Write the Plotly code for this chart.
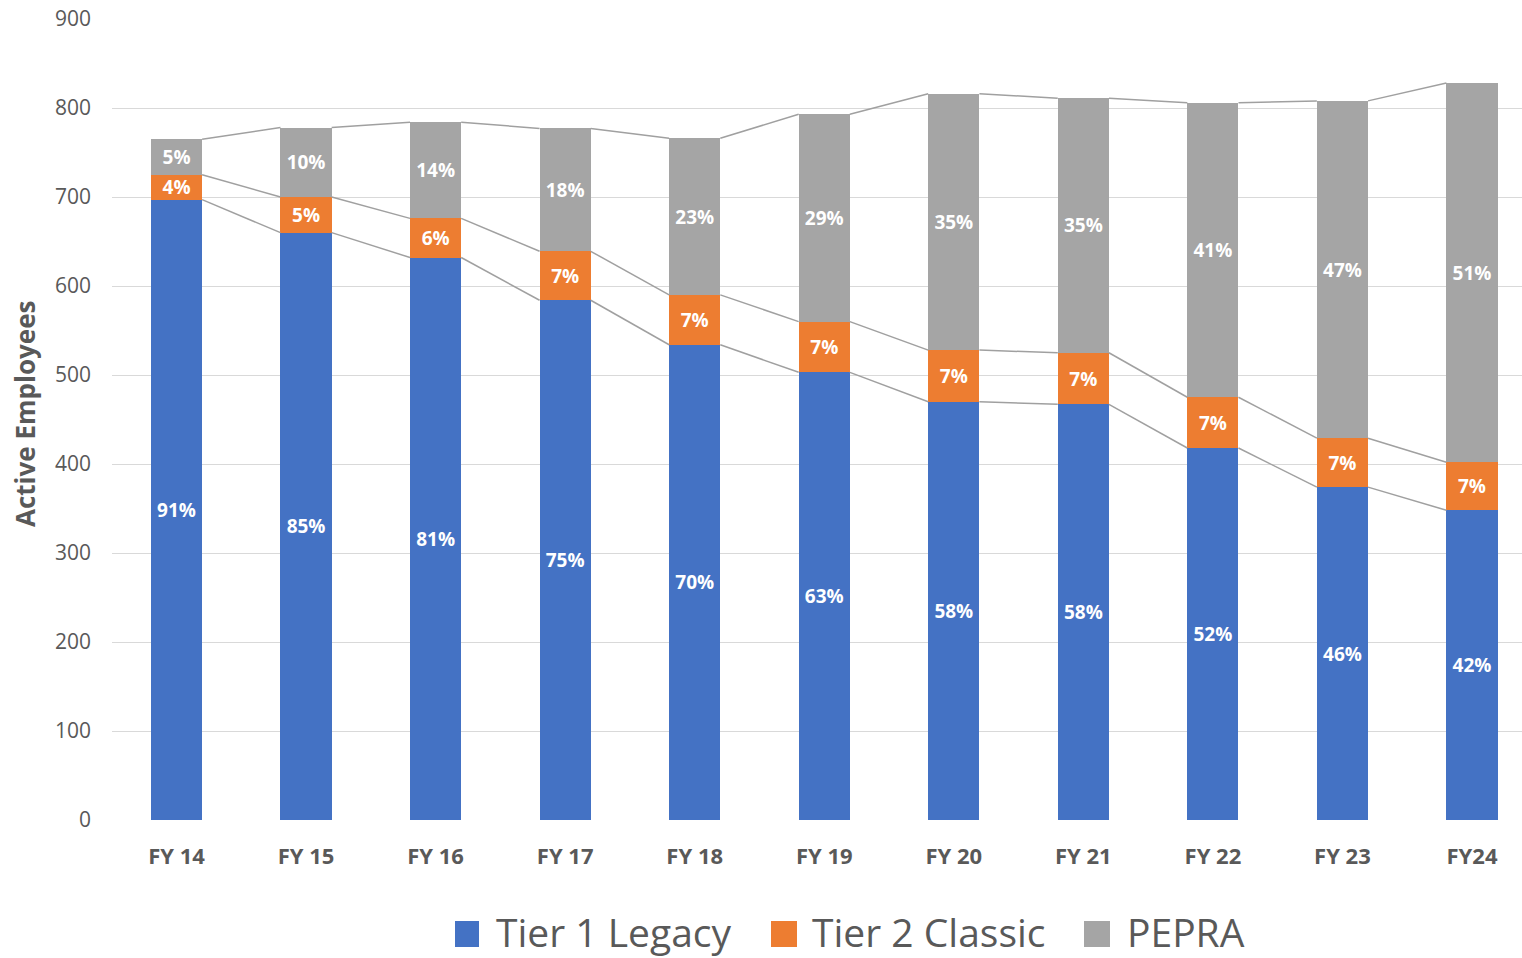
import plotly.graph_objects as go

# Active employees by pension tier, fiscal years 14-24
years = ["FY 14", "FY 15", "FY 16", "FY 17", "FY 18", "FY 19",
         "FY 20", "FY 21", "FY 22", "FY 23", "FY24"]
tier1_legacy = [697, 660, 632, 584, 534, 503, 470, 467, 418, 374, 348]
tier2_classic = [28, 40, 44, 55, 56, 57, 58, 58, 57, 55, 54]
pepra = [40, 78, 108, 138, 176, 233, 288, 286, 331, 379, 426]

series_names = ["Tier 1 Legacy", "Tier 2 Classic", "PEPRA"]
series_colors = ["#4472C4", "#ED7D31", "#A5A5A5"]
series_values = [tier1_legacy, tier2_classic, pepra]

y_ticks = [0, 100, 200, 300, 400, 500, 600, 700, 800, 900]

FONT = "Open Sans"
TEXT_GREY = "#595959"
BAR_WIDTH = 0.395

x_pos = list(range(len(years)))
totals = [sum(v) for v in zip(*series_values)]

fig = go.Figure()

# stacked bars with share-of-total labels
for name, color, vals in zip(series_names, series_colors, series_values):
    pct = [f"{round(100 * v / t)}%" for v, t in zip(vals, totals)]
    fig.add_trace(go.Bar(
        x=x_pos, y=vals, name=name, width=BAR_WIDTH,
        marker=dict(color=color, line=dict(width=0)),
        text=pct, textposition="inside", insidetextanchor="middle",
        textangle=0, constraintext="none",
        textfont=dict(family=FONT, size=19, color="white", weight="bold"),
        showlegend=False, hoverinfo="x+y+name",
    ))

# series lines joining the tops of each stacked level between bars
levels = []
running = [0] * len(years)
for vals in series_values:
    running = [r + v for r, v in zip(running, vals)]
    levels.append(list(running))

for lvl in levels:
    xs, ys = [], []
    for i in range(len(years) - 1):
        xs += [i + BAR_WIDTH / 2, i + 1 - BAR_WIDTH / 2, None]
        ys += [lvl[i], lvl[i + 1], None]
    fig.add_trace(go.Scatter(
        x=xs, y=ys, mode="lines",
        line=dict(color="#A0A0A0", width=1.5),
        showlegend=False, hoverinfo="skip",
    ))

# plot-area geometry in pixels, used to place the custom legend
L, R, T, B = 112, 1522, 19, 820
W, H = R - L, B - T


def px_x(p):
    return (p - L) / W


def px_y(p):
    return (B - p) / H


legend_items = [
    (455, 479, 494, series_names[0], series_colors[0]),
    (771, 797, 810, series_names[1], series_colors[1]),
    (1084, 1110, 1125, series_names[2], series_colors[2]),
]
shapes = []
annotations = []
for x0, x1, tx, label, color in legend_items:
    shapes.append(dict(
        type="rect", xref="paper", yref="paper",
        x0=px_x(x0), x1=px_x(x1), y0=px_y(947), y1=px_y(921),
        fillcolor=color, line=dict(width=0), layer="above",
    ))
    annotations.append(dict(
        text=label, xref="paper", yref="paper",
        x=px_x(tx), y=px_y(932), xanchor="left", yanchor="middle",
        showarrow=False,
        font=dict(family=FONT, size=39, color=TEXT_GREY),
    ))

# rotated y-axis title
annotations.append(dict(
    text="Active Employees", xref="paper", yref="paper",
    x=px_x(25), y=px_y(414), xanchor="center", yanchor="middle",
    textangle=-90, showarrow=False,
    font=dict(family=FONT, size=26, color=TEXT_GREY, weight="bold"),
))

fig.update_layout(
    barmode="stack",
    width=1522, height=958,
    margin=dict(l=L, r=1522 - R, t=T, b=958 - B, pad=0),
    paper_bgcolor="white", plot_bgcolor="white",
    font=dict(family=FONT, color=TEXT_GREY),
    uniformtext=dict(minsize=19, mode="show"),
    shapes=shapes, annotations=annotations,
    showlegend=False,
)

fig.update_xaxes(
    range=[-0.498, 10.386], tickmode="array",
    tickvals=x_pos, ticktext=years,
    showgrid=False, zeroline=False, showline=False, ticks="",
    ticklabelstandoff=21,
    tickfont=dict(family=FONT, size=22, color=TEXT_GREY, weight="bold"),
)
fig.update_yaxes(
    range=[0, 900], tickmode="array", tickvals=y_ticks,
    showgrid=True, gridcolor="#D9D9D9", gridwidth=1.3,
    zeroline=False, showline=False, ticks="",
    ticklabelstandoff=20,
    tickfont=dict(family=FONT, size=21, color=TEXT_GREY),
)

fig.write_html("out.html")
